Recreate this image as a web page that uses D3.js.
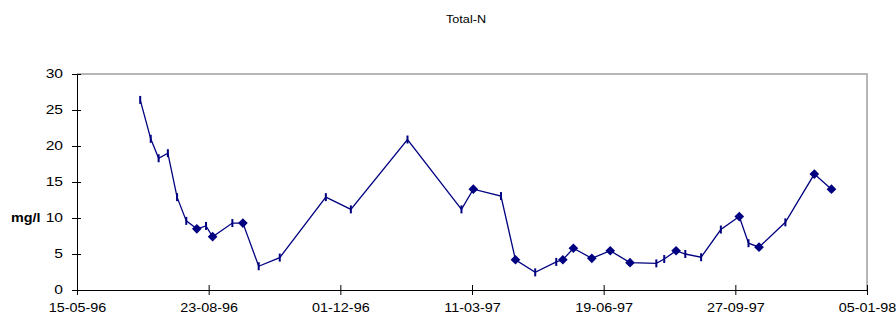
<!DOCTYPE html>
<html><head><meta charset="utf-8">
<script src="https://cdn.jsdelivr.net/npm/d3@7"></script>
<style>body{margin:0;background:#fff}svg{display:block}text{font-family:"Liberation Sans",Arial,sans-serif}</style>
</head><body>
<script>
const title = "Total-N";
const yLabel = "mg/l";
const dates = ["02-07-96","10-07-96","16-07-96","23-07-96","30-07-96","06-08-96","14-08-96","21-08-96","26-08-96","10-09-96","18-09-96","30-09-96","16-10-96","20-11-96","09-12-96","21-01-97","03-03-97","12-03-97","02-04-97","13-04-97","28-04-97","14-05-97","19-05-97","27-05-97","10-06-97","24-06-97","09-07-97","29-07-97","04-08-97","13-08-97","20-08-97","01-09-97","16-09-97","30-09-97","07-10-97","15-10-97","04-11-97","26-11-97","09-12-97"];
const values = [26.4,21.0,18.3,19.0,12.9,9.6,8.5,8.9,7.4,9.3,9.3,3.3,4.5,12.9,11.2,20.9,11.2,14.0,13.05,4.2,2.45,3.9,4.2,5.8,4.4,5.45,3.8,3.7,4.3,5.45,5.0,4.55,8.4,10.2,6.5,5.95,9.4,16.1,14.0];
const markers = ["t","t","t","t","t","t","d","t","d","t","d","t","t","t","t","t","t","d","t","d","t","t","d","d","d","d","d","t","t","d","t","t","t","d","t","d","t","d","d"];
const xTickLabels = ["15-05-96","23-08-96","01-12-96","11-03-97","19-06-97","27-09-97","05-01-98"];
const yTicks = [0,5,10,15,20,25,30];

const W=896,H=322, L=77, R=867, T=74, B=290, SX=1.2;
const parse = d3.timeParse("%d-%m-%y");
const svg = d3.select("body").append("svg").attr("width",W).attr("height",H);
const x = d3.scaleTime().domain([parse(xTickLabels[0]), parse(xTickLabels[xTickLabels.length-1])]).range([L,R]);
const y = d3.scaleLinear().domain([0,30]).range([B,T]);
const col = "#000080";

// frame (top/right gray)
svg.append("path").attr("d",`M${L},${T}H${R}V${B}`).attr("fill","none").attr("stroke","#a0a0a0").attr("stroke-width",1.5);

// axes
const xAxis = d3.axisBottom(x).tickValues(xTickLabels.map(parse)).tickFormat(d3.timeFormat("%d-%m-%y")).tickSizeInner(5).tickSizeOuter(0);
const gx = svg.append("g").attr("transform",`translate(0,${B})`).call(xAxis);
gx.select(".domain").attr("stroke","#000");
gx.selectAll(".tick line").attr("y1",-5).attr("y2",5).attr("stroke","#000");
gx.selectAll(".tick text").attr("y",13).attr("font-size",12).attr("fill","#000").attr("transform",`scale(${SX},1)`);

const yAxis = d3.axisLeft(y).tickValues(yTicks).tickSizeInner(5).tickSizeOuter(0);
const gy = svg.append("g").attr("transform",`translate(${L},0)`).call(yAxis);
gy.select(".domain").attr("stroke","#000");
gy.selectAll(".tick line").attr("x1",-5).attr("x2",4).attr("stroke","#000");
gy.selectAll(".tick text").attr("x",-14/1.3).attr("font-size",12).attr("fill","#000").attr("transform",`scale(1.3,1)`);

// title, y label
svg.append("text").attr("transform",`translate(${(L+R)/2-6},23) scale(1.15,1)`).attr("text-anchor","middle").attr("font-size",11).text(title);
svg.append("text").attr("transform",`translate(11,222) scale(1.15,1)`).attr("font-size",12.5).attr("font-weight","bold").text(yLabel);

// data
const data = dates.map((d,i)=>({date:parse(d), v:values[i], m:markers[i]}));
svg.append("path").datum(data)
  .attr("d", d3.line().x(d=>x(d.date)).y(d=>y(d.v)))
  .attr("fill","none").attr("stroke",col).attr("stroke-width",1.3);

svg.selectAll(".tk").data(data.filter(d=>d.m==="t")).enter().append("line")
  .attr("x1",d=>x(d.date)).attr("x2",d=>x(d.date))
  .attr("y1",d=>y(d.v)-4).attr("y2",d=>y(d.v)+4)
  .attr("stroke",col).attr("stroke-width",2);

const sym = d3.symbol().type(d3.symbolDiamond2).size(60);
svg.selectAll(".dm").data(data.filter(d=>d.m==="d")).enter().append("path")
  .attr("d",sym).attr("transform",d=>`translate(${x(d.date)},${y(d.v)})`)
  .attr("fill",col);
</script>
</body></html>
